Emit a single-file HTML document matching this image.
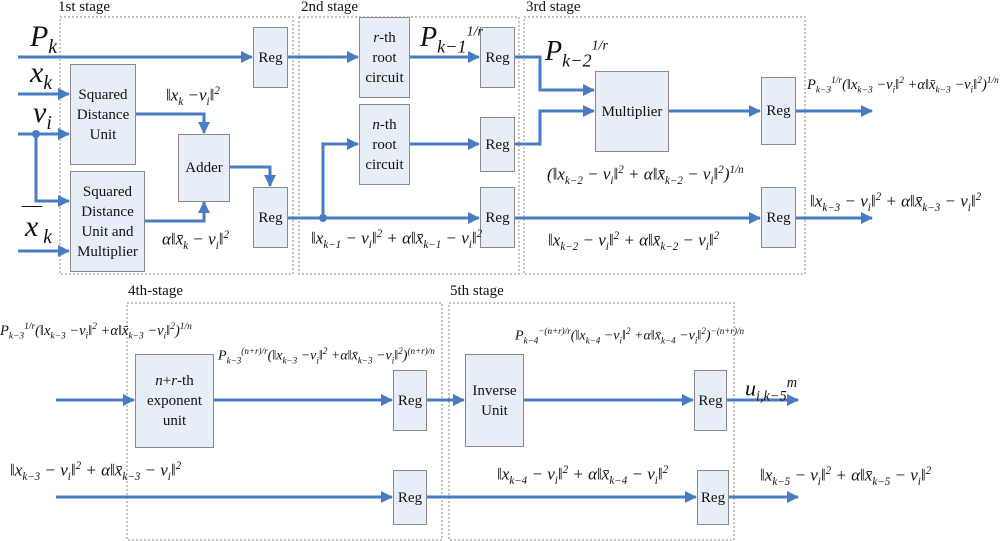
<!DOCTYPE html>
<html><head><meta charset="utf-8"><style>
body{margin:0;background:#fff;width:1000px;height:541px;overflow:hidden;position:relative;font-family:"Liberation Serif",serif;}
svg{position:absolute;left:0;top:0}
.t{position:absolute;white-space:nowrap;color:#111;line-height:1;}
.i{font-style:italic}
.box{position:absolute;background:#e8eef8;border:1.5px solid #8a8a8a;box-sizing:border-box;display:flex;align-items:center;justify-content:center;text-align:center;font-size:15px;line-height:20px;color:#111}
.m{font-size:16px;font-style:italic}
sub,sup{font-size:65%}
.n{font-style:normal}
</style></head><body>
<svg width="1000" height="541">
<defs><marker id="b" markerWidth="12" markerHeight="12" refX="11" refY="6" orient="auto" markerUnits="userSpaceOnUse"><path d="M0,0 L12,6 L0,12 z" fill="#4a7cc4"/></marker></defs>
<g fill="none" stroke="#888" stroke-dasharray="2,2" stroke-width="1">
<rect x="60" y="17" width="233" height="257"/>
<rect x="299" y="17" width="220" height="257"/>
<rect x="524" y="17" width="281" height="257"/>
<rect x="127" y="303" width="315" height="237"/>
<rect x="449" y="303" width="285" height="237"/>
</g>
<g fill="none" stroke="#4a7cc4" stroke-width="3" marker-end="url(#b)">
<path d="M18,57 H252"/>
<path d="M18,94 H69"/>
<path d="M18,134 H69"/>
<path d="M36,134 V201 H69"/>
<path d="M18,251 H69"/>
<path d="M135,114 H204 V133"/>
<path d="M144,221 H204 V202"/>
<path d="M229,167 H270 V186"/>
<path d="M287,57 H358"/>
<path d="M409,57 H479"/>
<path d="M287,218 H479"/>
<path d="M323,218 V144 H358"/>
<path d="M409,144 H479"/>
<path d="M514,57 H540 V90 H594"/>
<path d="M514,144 H540 V111 H594"/>
<path d="M668,111 H760"/>
<path d="M514,218 H760"/>
<path d="M795,111 H872"/>
<path d="M795,218 H872"/>
<path d="M56,400 H134"/>
<path d="M213,400 H392"/>
<path d="M426,400 H464"/>
<path d="M523,400 H693"/>
<path d="M726,400 H798"/>
<path d="M56,497 H392"/>
<path d="M426,497 H696"/>
<path d="M728,497 H798"/>
</g>
<circle cx="36" cy="134" r="4" fill="#4a7cc4"/>
<circle cx="323" cy="218" r="4" fill="#4a7cc4"/>
</svg>

<div class="t" style="left:58px;top:0px;font-size:15px">1st stage</div>
<div class="t" style="left:301px;top:0px;font-size:15px">2nd stage</div>
<div class="t" style="left:526px;top:0px;font-size:15px">3rd stage</div>
<div class="t" style="left:128px;top:284px;font-size:15px">4th-stage</div>
<div class="t" style="left:450px;top:284px;font-size:15px">5th stage</div>

<div class="box" style="left:253px;top:27px;width:35px;height:61px">Reg</div>
<div class="box" style="left:70px;top:64px;width:66px;height:101px">Squared<br>Distance<br>Unit</div>
<div class="box" style="left:70px;top:171px;width:75px;height:101px">Squared<br>Distance<br>Unit and<br>Multiplier</div>
<div class="box" style="left:178px;top:134px;width:52px;height:68px">Adder</div>
<div class="box" style="left:253px;top:187px;width:35px;height:61px">Reg</div>
<div class="box" style="left:359px;top:17px;width:51px;height:81px"><span><i>r</i>-th<br>root<br>circuit</span></div>
<div class="box" style="left:359px;top:104px;width:51px;height:81px"><span><i>n</i>-th<br>root<br>circuit</span></div>
<div class="box" style="left:480px;top:27px;width:35px;height:61px">Reg</div>
<div class="box" style="left:480px;top:117px;width:35px;height:55px">Reg</div>
<div class="box" style="left:480px;top:187px;width:35px;height:61px">Reg</div>
<div class="box" style="left:595px;top:71px;width:74px;height:81px">Multiplier</div>
<div class="box" style="left:761px;top:77px;width:35px;height:68px">Reg</div>
<div class="box" style="left:761px;top:187px;width:35px;height:61px">Reg</div>
<div class="box" style="left:135px;top:354px;width:79px;height:94px"><span><i>n</i>+<i>r</i>-th<br>exponent<br>unit</span></div>
<div class="box" style="left:393px;top:370px;width:34px;height:61px">Reg</div>
<div class="box" style="left:393px;top:470px;width:34px;height:55px">Reg</div>
<div class="box" style="left:465px;top:354px;width:59px;height:93px">Inverse<br>Unit</div>
<div class="box" style="left:694px;top:370px;width:33px;height:61px">Reg</div>
<div class="box" style="left:697px;top:470px;width:32px;height:55px">Reg</div>

<div class="t i" style="left:30px;top:22px;font-size:30px">P<sub>k</sub></div>
<div class="t i" style="left:30px;top:58px;font-size:30px">x<sub>k</sub></div>
<div class="t i" style="left:33px;top:98px;font-size:30px">v<sub>i</sub></div>
<div class="t" style="left:22px;top:195px;font-size:20px">—</div>
<div class="t i" style="left:25px;top:212px;font-size:30px">x<sub> k</sub></div>

<div class="t m" style="left:166px;top:86px;font-size:17px">‖x<sub>k</sub> −v<sub>i</sub>‖<sup>2</sup></div>
<div class="t m" style="left:162px;top:230px;font-size:17px">α‖x̄<sub>k</sub> − v<sub>i</sub>‖<sup>2</sup></div>
<div class="t m" style="left:311px;top:229px;font-size:17px">‖x<sub>k−1</sub> − v<sub>i</sub>‖<sup>2</sup> + α‖x̄<sub>k−1</sub> − v<sub>i</sub>‖<sup>2</sup></div>
<div class="t i" style="left:420px;top:24px;font-size:28px">P<sub>k−1</sub><sup style="font-size:50%">1/r</sup></div>
<div class="t i" style="left:545px;top:38px;font-size:28px">P<sub>k−2</sub><sup style="font-size:50%">1/r</sup></div>
<div class="t m" style="left:547px;top:165px;font-size:17px">(‖x<sub>k−2</sub> − v<sub>i</sub>‖<sup>2</sup> + α‖x̄<sub>k−2</sub> − v<sub>i</sub>‖<sup>2</sup>)<sup>1/n</sup></div>
<div class="t m" style="left:548px;top:231px;font-size:17px">‖x<sub>k−2</sub> − v<sub>i</sub>‖<sup>2</sup> + α‖x̄<sub>k−2</sub> − v<sub>i</sub>‖<sup>2</sup></div>
<div class="t m" style="left:807px;top:77px;font-size:14.5px">P<sub>k−3</sub><sup>1/r</sup>(‖x<sub>k−3</sub> −v<sub>i</sub>‖<sup>2</sup> +α‖x̄<sub>k−3</sub> −v<sub>i</sub>‖<sup>2</sup>)<sup>1/n</sup></div>
<div class="t m" style="left:810px;top:192px;font-size:17px">‖x<sub>k−3</sub> − v<sub>i</sub>‖<sup>2</sup> + α‖x̄<sub>k−3</sub> − v<sub>i</sub>‖<sup>2</sup></div>

<div class="t m" style="left:0px;top:323px;font-size:14.5px">P<sub>k−3</sub><sup>1/r</sup>(‖x<sub>k−3</sub> −v<sub>i</sub>‖<sup>2</sup> +α‖x̄<sub>k−3</sub> −v<sub>i</sub>‖<sup>2</sup>)<sup>1/n</sup></div>
<div class="t m" style="left:218px;top:347px;font-size:14px">P<sub>k−3</sub><sup>(n+r)/r</sup>(‖x<sub>k−3</sub> −v<sub>i</sub>‖<sup>2</sup> +α‖x̄<sub>k−3</sub> −v<sub>i</sub>‖<sup>2</sup>)<sup>(n+r)/n</sup></div>
<div class="t m" style="left:10px;top:461px;font-size:17px">‖x<sub>k−3</sub> − v<sub>i</sub>‖<sup>2</sup> + α‖x̄<sub>k−3</sub> − v<sub>i</sub>‖<sup>2</sup></div>
<div class="t m" style="left:515px;top:327px;font-size:14px">P<sub>k−4</sub><sup>−(n+r)/r</sup>(‖x<sub>k−4</sub> −v<sub>i</sub>‖<sup>2</sup> +α‖x̄<sub>k−4</sub> −v<sub>i</sub>‖<sup>2</sup>)<sup>−(n+r)/n</sup></div>
<div class="t i" style="left:745px;top:376px;font-size:22px">u<sub>i,k−5</sub><sup>m</sup></div>
<div class="t m" style="left:497px;top:465px;font-size:17px">‖x<sub>k−4</sub> − v<sub>i</sub>‖<sup>2</sup> + α‖x̄<sub>k−4</sub> − v<sub>i</sub>‖<sup>2</sup></div>
<div class="t m" style="left:760px;top:466px;font-size:17px">‖x<sub>k−5</sub> − v<sub>i</sub>‖<sup>2</sup> + α‖x̄<sub>k−5</sub> − v<sub>i</sub>‖<sup>2</sup></div>
</body></html>
